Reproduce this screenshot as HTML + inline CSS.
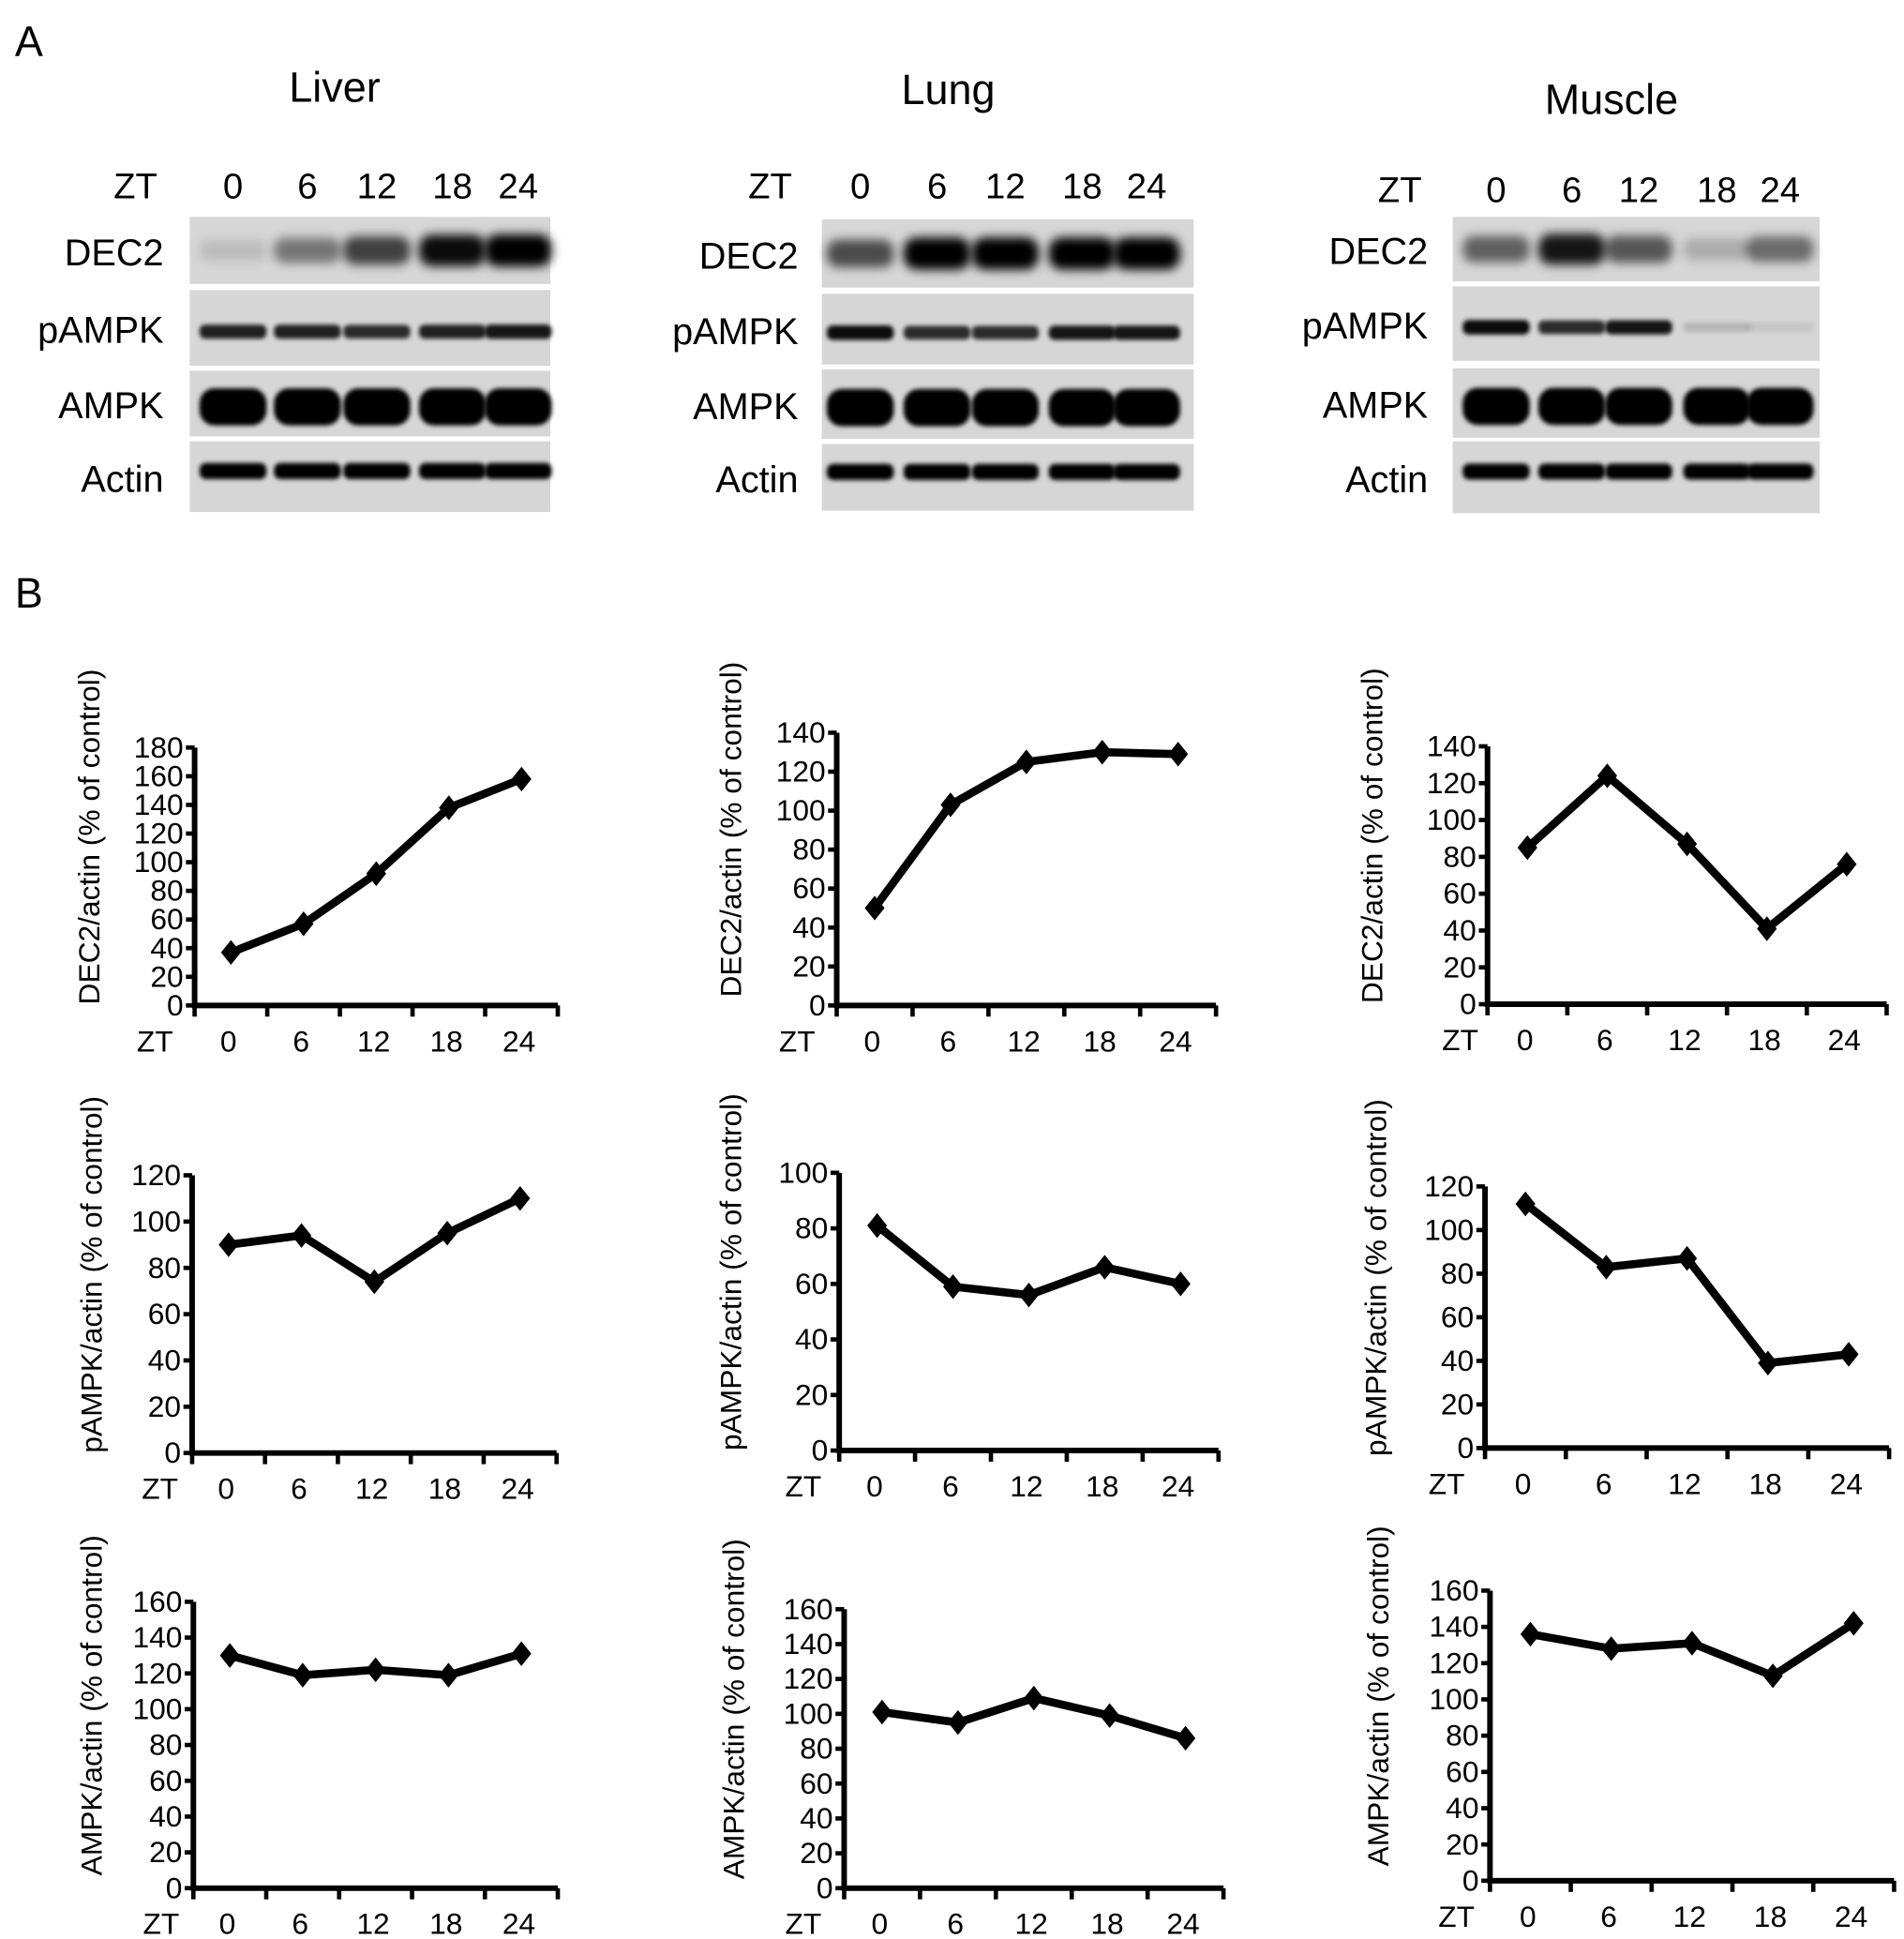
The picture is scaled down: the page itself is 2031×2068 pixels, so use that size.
<!DOCTYPE html>
<html><head><meta charset="utf-8"><style>
html,body{margin:0;padding:0;background:#fff;}
svg{display:block;font-family:"Liberation Sans",Arial,sans-serif;}
</style></head><body>
<svg id="fig" width="2031" height="2068" viewBox="0 0 1536 1564" preserveAspectRatio="none" xmlns="http://www.w3.org/2000/svg">
<defs>
<filter id="blur2" x="-20%" y="-50%" width="140%" height="200%"><feGaussianBlur stdDeviation="1.8"/></filter>
<filter id="blur5" x="-20%" y="-80%" width="140%" height="260%"><feGaussianBlur stdDeviation="4"/></filter>
</defs>
<text x="12" y="45" font-size="34">A</text>
<text x="12" y="490" font-size="34">B</text>
<g id="blots"></g>
<g id="charts"></g>
</svg>
<script>
// ---- Blot data (band intensities per lane, 0..1) ----
const lanes = ["0","6","12","18","24"];
const rowNames = ["DEC2","pAMPK","AMPK","Actin"];
const liverIntensity = [[0.12,0.45,0.7,0.95,1],[0.85,0.85,0.8,0.85,0.9],[1,1,1,1,1],[1,1,1,1,1]];
const lungIntensity = [[0.65,1,1,1,1],[0.95,0.8,0.8,0.9,0.9],[1,1,1,1,1],[1,1,1,1,1]];
const muscleIntensity = [[0.55,0.9,0.6,0.2,0.5],[0.95,0.8,0.9,0.15,0.08],[1,1,1,1,1],[1,1,1,1,1]];

// ---- Chart data ----
const zt = ["0","6","12","18","24"];
const liverDEC2 = [37,57,92,138,158];
const lungDEC2 = [50,103,125,130,129];
const muscleDEC2 = [85,124,87,41,76];
const liverPAMPK = [90,94,74,95,110];
const lungPAMPK = [81,59,56,66,60];
const musclePAMPK = [112,83,87,39,43];
const liverAMPK = [130,119,122,119,131];
const lungAMPK = [101,95,109,99,86];
const muscleAMPK = [136,128,131,113,142];

const NS="http://www.w3.org/2000/svg";
function mk(tag, attrs, parent){const e=document.createElementNS(NS,tag);for(const k in attrs)e.setAttribute(k,attrs[k]);if(parent)parent.appendChild(e);return e;}

const blotPanels = [
 {name:"liver",title:"Liver",tx:270,ty:82,x:153,w:291,lab:140,zty:160,laneX:[188,248,304,365,418],rows:[[175,229],[234,295],[299,352],[356,413]],data:liverIntensity},
 {name:"lung",title:"Lung",tx:765,ty:84,x:663,w:300,lab:652,zty:160,laneX:[694,756,811,873,925],rows:[[177,232],[237,294],[298,354],[358,412]],data:lungIntensity},
 {name:"muscle",title:"Muscle",tx:1300,ty:92,x:1172,w:296,lab:1160,zty:163,laneX:[1207,1268,1322,1385,1436],rows:[[175,227],[231,291],[297,353],[356,414]],data:muscleIntensity}
];
const bandH = [26,12,30,13];
const bandOff = [0.5,0.55,0.55,0.42];
const blots = document.getElementById('blots');
blotPanels.forEach(p=>{
  const g=mk('g',{},blots);
  
  
  const t=mk('text',{x:p.tx,y:p.ty,'font-size':34,'text-anchor':'middle'},g);t.textContent=p.title;
  
  
  const z=mk('text',{x:p.lab-13,y:p.zty,'font-size':29,'text-anchor':'end'},g);z.textContent="ZT";
  
  
  lanes.forEach((l,i)=>{const e=mk('text',{x:p.laneX[i],y:p.zty,'font-size':29,'text-anchor':'middle'},g);e.textContent=l;
    
    });
  p.rows.forEach((r,ri)=>{
    const bg=mk('rect',{x:p.x,y:r[0],width:p.w,height:r[1]-r[0],fill:'#d6d6d6'},g);
    
    
    const lt=mk('text',{x:p.lab-8,y:(r[0]+r[1])/2+12,'font-size':30,'text-anchor':'end'},g);lt.textContent=rowNames[ri];
    
    
    const cy=r[0]+(r[1]-r[0])*bandOff[ri];
    p.data[ri].forEach((v,li)=>{
      const h=bandH[ri]*(0.6+0.4*v);
      const b=mk('rect',{x:p.laneX[li]-27,y:cy-h/2,width:54,height:h,rx:h/2.5,fill:'#000','fill-opacity':v,filter:ri===0?'url(#blur5)':'url(#blur2)'},g);
      
      
    });
  });
});

const charts = [
 {name:"liver-dec2",vals:liverDEC2,label:"DEC2/actin (% of control)",x0:157,w:293,yTop:603,yBot:811,max:180,step:20,lx:80,ztx:125},
 {name:"lung-dec2",vals:lungDEC2,label:"DEC2/actin (% of control)",x0:675,w:306,yTop:591,yBot:811,max:140,step:20,lx:598,ztx:643},
 {name:"muscle-dec2",vals:muscleDEC2,label:"DEC2/actin (% of control)",x0:1200,w:322,yTop:602,yBot:810,max:140,step:20,lx:1115,ztx:1178},
 {name:"liver-pampk",vals:liverPAMPK,label:"pAMPK/actin (% of control)",x0:155,w:294,yTop:948,yBot:1172,max:120,step:20,lx:82,ztx:129},
 {name:"lung-pampk",vals:lungPAMPK,label:"pAMPK/actin (% of control)",x0:677,w:306,yTop:946,yBot:1170,max:100,step:20,lx:598,ztx:648},
 {name:"muscle-pampk",vals:musclePAMPK,label:"pAMPK/actin (% of control)",x0:1198,w:326,yTop:957,yBot:1168,max:120,step:20,lx:1118,ztx:1167},
 {name:"liver-ampk",vals:liverAMPK,label:"AMPK/actin (% of control)",x0:156,w:294,yTop:1292,yBot:1523,max:160,step:20,lx:82,ztx:130},
 {name:"lung-ampk",vals:lungAMPK,label:"AMPK/actin (% of control)",x0:681,w:306,yTop:1298,yBot:1523,max:160,step:20,lx:600,ztx:648},
 {name:"muscle-ampk",vals:muscleAMPK,label:"AMPK/actin (% of control)",x0:1202,w:326,yTop:1283,yBot:1517,max:160,step:20,lx:1120,ztx:1175}
];
const chartsG=document.getElementById('charts');
charts.forEach(c=>{
  const g=mk('g',{},chartsG);
  
  
  const n=c.vals.length, bw=c.w/n;
  const xs=i=>c.x0+bw*(i+0.5);
  const ys=v=>c.yBot-(v/c.max)*(c.yBot-c.yTop);
  const ya=mk('line',{x1:c.x0,y1:c.yTop,x2:c.x0,y2:c.yBot+2,stroke:'#000','stroke-width':4.5},g);
  
  
  for(let v=0;v<=c.max;v+=c.step){
    const y=ys(v);
    mk('line',{x1:c.x0-7,y1:y,x2:c.x0,y2:y,stroke:'#000','stroke-width':3.5},g);
    const t=mk('text',{x:c.x0-9,y:y+8,'font-size':24,'text-anchor':'end'},g);t.textContent=v;
    
    
  }
  const xa=mk('line',{x1:c.x0-2,y1:c.yBot,x2:c.x0+c.w,y2:c.yBot,stroke:'#000','stroke-width':4.5},g);
  
  
  for(let i=0;i<=n;i++){mk('line',{x1:c.x0+bw*i,y1:c.yBot,x2:c.x0+bw*i,y2:c.yBot+9,stroke:'#000','stroke-width':3.5},g);}
  zt.forEach((l,i)=>{const t=mk('text',{x:xs(i)-2,y:c.yBot+37,'font-size':24,'text-anchor':'middle'},g);t.textContent=l;
    
    });
  const zl=mk('text',{x:c.ztx,y:c.yBot+37,'font-size':24,'text-anchor':'middle'},g);zl.textContent="ZT";
  
  
  const ly=(c.yTop+c.yBot)/2-32;
  const yl=mk('text',{x:0,y:0,'font-size':24,'text-anchor':'middle',transform:`translate(${c.lx},${ly}) rotate(-90)`},g);yl.textContent=c.label;
  
  
  const pts=c.vals.map((v,i)=>xs(i)+','+ys(v)).join(' ');
  const line=mk('polyline',{points:pts,fill:'none',stroke:'#000','stroke-width':6.5,'stroke-linejoin':'round'},g);
  
  
  c.vals.forEach((v,i)=>{
    const x=xs(i),y=ys(v),s=10;
    const d=mk('polygon',{points:`${x},${y-s} ${x+s*0.8},${y} ${x},${y+s} ${x-s*0.8},${y}`,fill:'#000'},g);
    
    
  });
});
</script>
</body></html>
